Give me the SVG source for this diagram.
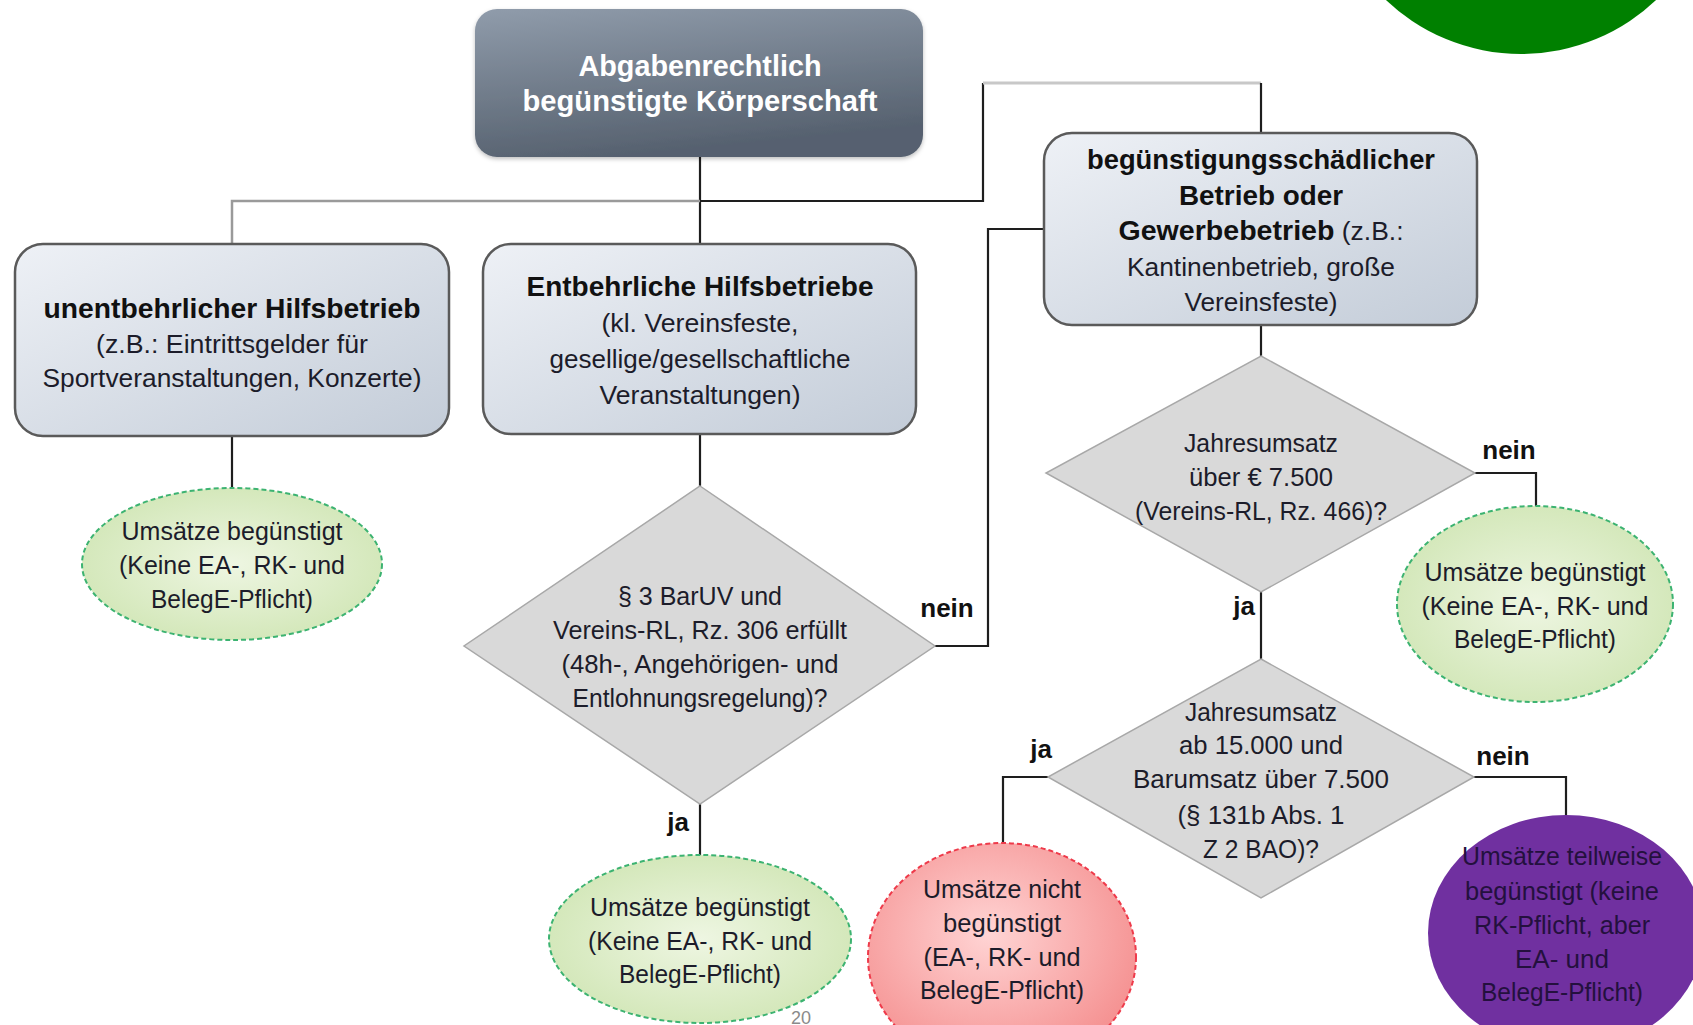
<svg xmlns="http://www.w3.org/2000/svg" width="1693" height="1025" viewBox="0 0 1693 1025">
<defs>
<linearGradient id="gTop" x1="0" y1="0" x2="0.3" y2="1">
<stop offset="0" stop-color="#909cab"/>
<stop offset="1" stop-color="#56616f"/>
</linearGradient>
<linearGradient id="gBox" x1="0" y1="0" x2="1" y2="1">
<stop offset="0" stop-color="#eef1f6"/>
<stop offset="1" stop-color="#c3ccd8"/>
</linearGradient>
<radialGradient id="gGreen" cx="0.5" cy="0.5" r="0.6">
<stop offset="0" stop-color="#eef6e2"/>
<stop offset="1" stop-color="#cfe5b3"/>
</radialGradient>
<radialGradient id="gRed" cx="0.45" cy="0.4" r="0.65">
<stop offset="0" stop-color="#ffd4d4"/>
<stop offset="1" stop-color="#f48c8c"/>
</radialGradient>
<filter id="sh" x="-10%" y="-10%" width="120%" height="130%">
<feDropShadow dx="0" dy="2" stdDeviation="2" flood-color="#000" flood-opacity="0.25"/>
</filter>
</defs>
<style>
.t{font-family:"Liberation Sans",Arial,sans-serif;font-size:25px;fill:#1c1c2a;text-anchor:middle}
.b{font-weight:bold;font-size:27px;fill:#111}
.w{font-weight:bold;font-size:29px;fill:#fff}
.p{fill:#24103e}
.l{font-family:"Liberation Sans",Arial,sans-serif;font-weight:bold;font-size:26px;fill:#111;text-anchor:middle}
.box{fill:url(#gBox);stroke:#5a5a5a;stroke-width:2.5}
.dia{fill:#d9d9d9;stroke:#a8a8a8;stroke-width:1.5}
.ge{fill:url(#gGreen);stroke:#3cb371;stroke-width:2;stroke-dasharray:5 3}
.c{fill:none;stroke:#1e1e1e;stroke-width:2.2}
</style>

<circle id="deco" cx="1521" cy="-142" r="196" fill="#008000"/>

<g id="connectors">
<path class="c" d="M700 157 V244"/>
<path d="M232 244 V201 H700" fill="none" stroke="#9a9a9a" stroke-width="2.5"/>
<path class="c" d="M700 201 H983 V83"/>
<path d="M983 83 H1261" fill="none" stroke="#c8c8c8" stroke-width="3"/>
<path class="c" d="M1261 83 V133"/>
<path class="c" d="M232 436 V488"/>
<path class="c" d="M700 434 V486"/>
<path class="c" d="M935 646 H988 V229 H1044"/>
<path class="c" d="M700 804 V855"/>
<path class="c" d="M1261 325 V356"/>
<path class="c" d="M1475 473 H1536 V506"/>
<path class="c" d="M1261 592 V659"/>
<path class="c" d="M1048 777 H1003 V843"/>
<path class="c" d="M1474 777 H1566 V815"/>
</g>

<g id="n_top">
<rect x="475" y="9" width="448" height="148" rx="22" fill="url(#gTop)" filter="url(#sh)"/>
<text class="t w" x="700" y="76" textLength="243" lengthAdjust="spacingAndGlyphs">Abgabenrechtlich</text>
<text class="t w" x="700" y="111" textLength="355" lengthAdjust="spacingAndGlyphs">begünstigte Körperschaft</text>
</g>

<g id="n_unentbehrlich">
<rect class="box" x="15" y="244" width="434" height="192" rx="28"/>
<text class="t b" x="232" y="318" textLength="377" lengthAdjust="spacingAndGlyphs">unentbehrlicher Hilfsbetrieb</text>
<text class="t" x="232" y="353" textLength="272" lengthAdjust="spacingAndGlyphs">(z.B.: Eintrittsgelder für</text>
<text class="t" x="232" y="387" textLength="379" lengthAdjust="spacingAndGlyphs">Sportveranstaltungen, Konzerte)</text>
</g>

<g id="n_entbehrlich">
<rect class="box" x="483" y="244" width="433" height="190" rx="28"/>
<text class="t b" x="700" y="296" textLength="347" lengthAdjust="spacingAndGlyphs">Entbehrliche Hilfsbetriebe</text>
<text class="t" x="700" y="332" textLength="197" lengthAdjust="spacingAndGlyphs">(kl. Vereinsfeste,</text>
<text class="t" x="700" y="368" textLength="301" lengthAdjust="spacingAndGlyphs">gesellige/gesellschaftliche</text>
<text class="t" x="700" y="404" textLength="201" lengthAdjust="spacingAndGlyphs">Veranstaltungen)</text>
</g>

<g id="n_schaedlich">
<rect class="box" x="1044" y="133" width="433" height="192" rx="28"/>
<text class="t b" x="1261" y="169" textLength="348" lengthAdjust="spacingAndGlyphs">begünstigungsschädlicher</text>
<text class="t b" x="1261" y="205" textLength="164" lengthAdjust="spacingAndGlyphs">Betrieb oder</text>
<text class="t" x="1261" y="240" textLength="285" lengthAdjust="spacingAndGlyphs"><tspan class="b">Gewerbebetrieb</tspan> (z.B.:</text>
<text class="t" x="1261" y="276" textLength="268" lengthAdjust="spacingAndGlyphs">Kantinenbetrieb, große</text>
<text class="t" x="1261" y="311" textLength="153" lengthAdjust="spacingAndGlyphs">Vereinsfeste)</text>
</g>

<g id="n_e1">
<ellipse class="ge" cx="232" cy="564" rx="150" ry="76"/>
<text class="t" x="232" y="540" textLength="221" lengthAdjust="spacingAndGlyphs">Umsätze begünstigt</text>
<text class="t" x="232" y="574" textLength="226" lengthAdjust="spacingAndGlyphs">(Keine EA-, RK- und</text>
<text class="t" x="232" y="608" textLength="162" lengthAdjust="spacingAndGlyphs">BelegE-Pflicht)</text>
</g>

<g id="n_d1">
<polygon class="dia" points="700,486 935,646 700,804 464,646"/>
<text class="t" x="700" y="605" textLength="164" lengthAdjust="spacingAndGlyphs">§ 3 BarUV und</text>
<text class="t" x="700" y="639" textLength="294" lengthAdjust="spacingAndGlyphs">Vereins-RL, Rz. 306 erfüllt</text>
<text class="t" x="700" y="673" textLength="277" lengthAdjust="spacingAndGlyphs">(48h-, Angehörigen- und</text>
<text class="t" x="700" y="707" textLength="255" lengthAdjust="spacingAndGlyphs">Entlohnungsregelung)?</text>
</g>

<g id="n_e2">
<ellipse class="ge" cx="700" cy="939" rx="151" ry="84"/>
<text class="t" x="700" y="916" textLength="220" lengthAdjust="spacingAndGlyphs">Umsätze begünstigt</text>
<text class="t" x="700" y="950" textLength="224" lengthAdjust="spacingAndGlyphs">(Keine EA-, RK- und</text>
<text class="t" x="700" y="983" textLength="162" lengthAdjust="spacingAndGlyphs">BelegE-Pflicht)</text>
</g>

<g id="n_d2">
<polygon class="dia" points="1261,356 1475,473 1261,592 1046,473"/>
<text class="t" x="1261" y="452" textLength="154" lengthAdjust="spacingAndGlyphs">Jahresumsatz</text>
<text class="t" x="1261" y="486" textLength="144" lengthAdjust="spacingAndGlyphs">über € 7.500</text>
<text class="t" x="1261" y="520" textLength="252" lengthAdjust="spacingAndGlyphs">(Vereins-RL, Rz. 466)?</text>
</g>

<g id="n_e3">
<ellipse class="ge" cx="1535" cy="604" rx="138" ry="98"/>
<text class="t" x="1535" y="581" textLength="221" lengthAdjust="spacingAndGlyphs">Umsätze begünstigt</text>
<text class="t" x="1535" y="615" textLength="227" lengthAdjust="spacingAndGlyphs">(Keine EA-, RK- und</text>
<text class="t" x="1535" y="648" textLength="162" lengthAdjust="spacingAndGlyphs">BelegE-Pflicht)</text>
</g>

<g id="n_d3">
<polygon class="dia" points="1261,659 1474,777 1261,898 1048,777"/>
<text class="t" x="1261" y="721" textLength="152" lengthAdjust="spacingAndGlyphs">Jahresumsatz</text>
<text class="t" x="1261" y="754" textLength="164" lengthAdjust="spacingAndGlyphs">ab 15.000 und</text>
<text class="t" x="1261" y="788" textLength="256" lengthAdjust="spacingAndGlyphs">Barumsatz  über 7.500</text>
<text class="t" x="1261" y="824" textLength="167" lengthAdjust="spacingAndGlyphs">(§ 131b Abs. 1</text>
<text class="t" x="1261" y="858" textLength="116" lengthAdjust="spacingAndGlyphs">Z 2 BAO)?</text>
</g>

<g id="n_e4">
<ellipse cx="1002" cy="957" rx="134" ry="114" fill="url(#gRed)" stroke="#ee3a4a" stroke-width="2" stroke-dasharray="5 3"/>
<text class="t" x="1002" y="898" textLength="158" lengthAdjust="spacingAndGlyphs">Umsätze nicht</text>
<text class="t" x="1002" y="932" textLength="118" lengthAdjust="spacingAndGlyphs">begünstigt</text>
<text class="t" x="1002" y="966" textLength="157" lengthAdjust="spacingAndGlyphs">(EA-, RK- und</text>
<text class="t" x="1002" y="999" textLength="164" lengthAdjust="spacingAndGlyphs">BelegE-Pflicht)</text>
</g>

<g id="n_e5">
<ellipse cx="1566" cy="933" rx="138" ry="118" fill="#7030a0"/>
<text class="t p" x="1562" y="865" textLength="200" lengthAdjust="spacingAndGlyphs">Umsätze teilweise</text>
<text class="t p" x="1562" y="900" textLength="194" lengthAdjust="spacingAndGlyphs">begünstigt (keine</text>
<text class="t p" x="1562" y="934" textLength="176" lengthAdjust="spacingAndGlyphs">RK-Pflicht, aber</text>
<text class="t p" x="1562" y="968" textLength="94" lengthAdjust="spacingAndGlyphs">EA- und</text>
<text class="t p" x="1562" y="1001" textLength="162" lengthAdjust="spacingAndGlyphs">BelegE-Pflicht)</text>
</g>

<g id="labels">
<text class="l" x="947" y="617">nein</text>
<text class="l" x="678" y="831">ja</text>
<text class="l" x="1509" y="459">nein</text>
<text class="l" x="1244" y="615">ja</text>
<text class="l" x="1041" y="758">ja</text>
<text class="l" x="1503" y="765">nein</text>
</g>

<text x="801" y="1024" font-family="Liberation Sans, Arial, sans-serif" font-size="18" fill="#8a8a8a" text-anchor="middle">20</text>
</svg>
